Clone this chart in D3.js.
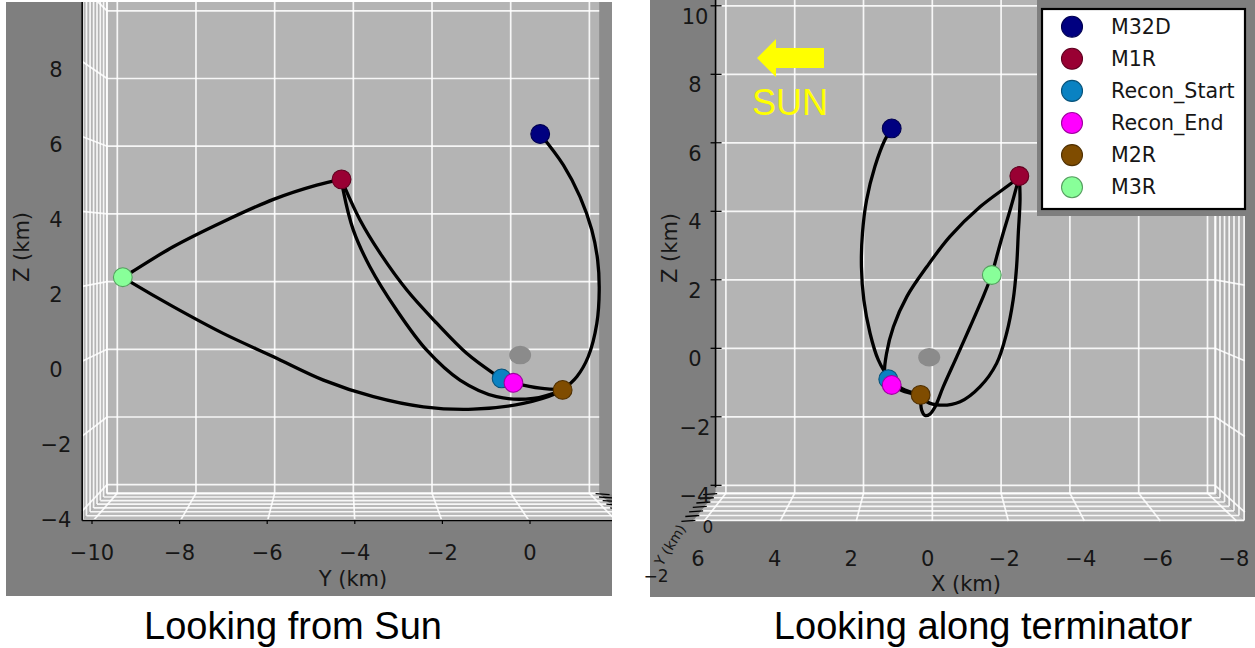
<!DOCTYPE html>
<html><head><meta charset="utf-8">
<script src="https://cdn.jsdelivr.net/npm/d3@7"></script>
<style>body{margin:0;background:#fff}svg{display:block}</style>
</head><body>
<svg id="c" width="1255" height="648"></svg>
<script>
// ---------------- DATA ----------------
const pointNames  = ["M32D","M1R","Recon_Start","Recon_End","M2R","M3R"];
const pointColors = ["#000080","#990033","#0a82c2","#ff00ff","#7f4c00","#88ff99"];

// View 1 "Looking from Sun": horizontal = Y (km), vertical = Z (km)
const sunY = [0.75, -4.30, -0.23, 0.07, 1.32, -9.86];
const sunZ = [6.36,  5.02, -0.86, -0.99, -1.20, 2.13];
const sunAsteroid = [0.24, -0.17];
const sunArcs = [
  [[0.75,6.36],[1.34,5.44],[1.76,4.51],[2.06,3.53],[2.21,2.64],[2.25,1.75],[2.19,0.77],[1.97,-0.22],[1.68,-0.81],[1.32,-1.20]],
  [[-4.30,5.02],[-4.93,4.85],[-6.03,4.43],[-7.31,3.77],[-8.58,3.03],[-9.68,2.25],[-9.86,2.13]],
  [[-9.86,2.13],[-9.68,2.00],[-8.58,1.26],[-7.31,0.47],[-6.03,-0.22],[-4.76,-0.91],[-3.49,-1.40],[-2.22,-1.70],[-0.95,-1.77],[0.32,-1.60],[1.17,-1.30],[1.32,-1.20]],
  [[-4.30,5.02],[-4.21,4.76],[-3.83,3.82],[-3.32,2.84],[-2.64,1.75],[-1.88,0.77],[-1.12,-0.12],[-0.44,-0.71],[-0.23,-0.86]],
  [[-4.30,5.02],[-4.26,4.71],[-4.00,3.52],[-3.58,2.44],[-2.90,1.16],[-2.14,-0.02],[-1.29,-0.91],[-0.36,-1.40],[0.57,-1.45],[1.32,-1.20]],
  [[0.07,-0.99],[0.75,-1.15],[1.32,-1.20]]
];

// View 2 "Looking along terminator": horizontal = X (km), vertical = Z (km)
const termX = [1.18, -2.53, 1.28, 1.18, 0.34, -1.73];
const termZ = [6.42,  5.03, -0.90, -1.07, -1.36, 2.14];
const termAsteroid = [0.09, -0.26];
const termArcs = [
  [[1.18,6.42],[1.38,6.08],[1.67,5.30],[1.91,4.33],[2.03,3.36],[2.06,2.38],[1.99,1.41],[1.81,0.44],[1.57,-0.34],[1.28,-0.83],[0.89,-1.17],[0.34,-1.36]],
  [[-2.53,5.03],[-2.35,4.86],[-1.39,4.13],[-0.51,3.26],[0.16,2.38],[0.74,1.51],[1.13,0.63],[1.33,-0.15],[1.38,-0.73],[1.28,-0.90]],
  [[-2.53,5.03],[-2.45,4.72],[-2.26,4.03],[-2.06,3.36],[-1.87,2.67],[-1.73,2.14]],
  [[-1.73,2.14],[-1.48,1.51],[-1.10,0.63],[-0.71,-0.25],[-0.32,-1.12],[-0.08,-1.71],[0.07,-1.92],[0.21,-1.96],[0.31,-1.80],[0.34,-1.36]],
  [[-2.53,5.03],[-2.55,4.33],[-2.50,3.36],[-2.45,2.38],[-2.35,1.41],[-2.16,0.44],[-1.87,-0.44],[-1.39,-1.12],[-0.81,-1.56],[-0.22,-1.66],[0.16,-1.56],[0.34,-1.36]],
  [[1.18,-1.07],[0.80,-1.27],[0.34,-1.36]]
];

// Tick values
const yTicks   = [-10,-8,-6,-4,-2,0];
const yGrid    = [-10,-8,-6,-4,-2,0,2];
const zTicksL  = [-4,-2,0,2,4,6,8];
const zGrid    = [-4,-2,0,2,4,6,8,10];
const xTicks   = [6,4,2,0,-2,-4,-6,-8];
const zTicksR  = [-4,-2,0,2,4,6,8,10];
const xDepth   = [-8,-6,-4,-2,0,2,4,6];
const yDepth   = [2,0,-2,-4,-6,-8,-10];
const yDepthLabels = [0,-2];
const captions = ["Looking from Sun","Looking along terminator"];

// ---------------- DRAWING ----------------
const svg = d3.select("#c");
const BG = "#7f7f7f", PANE = "#b4b4b4", GRID = "rgba(255,255,255,0.88)", TXT = "#161616";
const FONT = "DejaVu Sans, sans-serif";
const TICK_FS = 21, LAB_FS = 21;
const fmt = d3.format("d");
const defs = svg.append("defs");

function panel(cfg){
  defs.append("clipPath").attr("id", cfg.id).append("rect")
    .attr("x", cfg.box[0]).attr("y", cfg.box[1]).attr("width", cfg.box[2]).attr("height", cfg.box[3]);
  const root = svg.append("g");
  root.append("rect").attr("x", cfg.box[0]).attr("y", cfg.box[1]).attr("width", cfg.box[2]).attr("height", cfg.box[3]).attr("fill", BG);
  const g = root.append("g").attr("clip-path", `url(#${cfg.id})`);
  const H = cfg.H, V = cfg.V;
  const T = d3.scaleLinear().domain(cfg.depthExt).range([0,1]);
  const kk = 1 - 1/cfg.ratio;
  const P = (h,z,d) => { const s = 1/(1 - T(d)*kk); return [cfg.c[0] + (H(h)-cfg.c[0])*s, cfg.c[1] + (V(z)-cfg.c[1])*s]; };
  const [h0,h1] = cfg.hExt, [z0,z1] = cfg.zExt, [d0,d1] = cfg.depthExt;
  const poly = pts => "M" + pts.map(p => p[0].toFixed(2)+","+p[1].toFixed(2)).join("L") + "Z";

  if (cfg.strip) g.append("path").attr("d", poly([[H(h1),V(z1)],[H(h1)+40,V(z1)],[H(h1)+40,V(z0)+4],[H(h1),V(z0)]])).attr("fill", "#8c8c8c");
  // panes
  g.append("rect").attr("x", Math.min(H(h0),H(h1))).attr("y", V(z1)).attr("width", Math.abs(H(h1)-H(h0))).attr("height", V(z0)-V(z1)).attr("fill", PANE);
  g.append("path").attr("d", poly([P(cfg.wallH,z1,d0),P(cfg.wallH,z0,d0),P(cfg.wallH,z0,d1),P(cfg.wallH,z1,d1)])).attr("fill", cfg.wallFill);
  g.append("path").attr("d", poly([P(h0,z0,d0),P(h1,z0,d0),P(h1,z0,d1),P(h0,z0,d1)])).attr("fill", cfg.floorFill);
  // grid
  const gg = g.append("g").attr("stroke", GRID).attr("stroke-width", 1.7).attr("fill","none");
  const seg = (a,b) => gg.append("line").attr("x1",a[0]).attr("y1",a[1]).attr("x2",b[0]).attr("y2",b[1]);
  cfg.hGrid.forEach(h => { seg([H(h),V(z1)],[H(h),V(z0)]); seg(P(h,z0,d0),P(h,z0,d1)); });
  cfg.zGrid.forEach(z => { seg([H(h0),V(z)],[H(h1),V(z)]); seg(P(cfg.wallH,z,d0),P(cfg.wallH,z,d1)); });
  cfg.dGrid.forEach(d => { seg(P(h0,z0,d),P(h1,z0,d)); seg(P(cfg.wallH,z1,d),P(cfg.wallH,z0,d)); });
  seg([H(cfg.wallH),V(z1)],[H(cfg.wallH),V(z0)]);
  seg([H(h0),V(z0)],[H(h1),V(z0)]);

  cfg.extra && cfg.extra(g, H, V, P);

  // asteroid
  g.append("ellipse").attr("cx", H(cfg.asteroid[0])).attr("cy", V(cfg.asteroid[1])).attr("rx", 11).attr("ry", 9.3).attr("fill", "#8b8b8b");
  // trajectories
  const line = d3.line().x(d => H(d[0])).y(d => V(d[1])).curve(d3.curveCatmullRom.alpha(0.5));
  g.append("g").selectAll("path").data(cfg.arcs).join("path")
    .attr("d", line).attr("fill","none").attr("stroke","#000").attr("stroke-width",3.3)
    .attr("stroke-linecap","round").attr("stroke-linejoin","round");
  // points
  g.append("g").selectAll("circle").data(pointNames.map((n,i)=>i)).join("circle")
    .attr("cx", i => H(cfg.ph[i])).attr("cy", i => V(cfg.pz[i])).attr("r", 9.4)
    .attr("fill", i => pointColors[i]).attr("stroke", i => d3.color(pointColors[i]).darker(1.3)).attr("stroke-width", 1.1);
  return {g, root, H, V, P};
}

function label(sel, x, y, txt, fs, rot){
  const t = sel.append("text").attr("text-anchor","middle").attr("dominant-baseline","central")
    .attr("font-family",FONT).attr("font-size",fs).attr("fill",TXT).text(txt);
  if (rot) t.attr("transform",`translate(${x},${y}) rotate(${rot})`); else t.attr("x",x).attr("y",y);
  return t;
}

// ---- Left panel ----
const L = panel({
  id:"clipL", box:[6,2,606,594],
  H: d3.scaleLinear().domain([-10,0]).range([117.3,510.7]),
  V: d3.scaleLinear().domain([0,6]).range([349.3,146.2]),
  c:[340.4,237.6], ratio:1.1067,
  hExt:[-10.26,2.25], zExt:[-4.25,10.7], depthExt:[-8.22,6.3], wallH:-10.26,
  hGrid:yGrid, zGrid:zGrid, dGrid:xDepth, strip:true,
  wallFill:PANE, floorFill:"#b9b9b9",
  asteroid:sunAsteroid, arcs:sunArcs, ph:sunY, pz:sunZ,
  extra:(g,H,V,P)=>{
    const ax = g.append("g").attr("stroke","#000").attr("stroke-width",1.6);
    const a = P(-10.26,10.7,6.3), b = P(-10.26,-4.25,6.3), e = P(2.25,-4.25,6.3);
    ax.append("line").attr("x1",a[0]).attr("y1",a[1]).attr("x2",b[0]).attr("y2",b[1]);
    ax.append("line").attr("x1",b[0]).attr("y1",b[1]).attr("x2",e[0]).attr("y2",e[1]);
    xDepth.forEach(d => { const p = P(2.25,-4.25,d); ax.append("line").attr("x1",p[0]-4).attr("y1",p[1]).attr("x2",p[0]+10).attr("y2",p[1]+1).attr("stroke-width",1.3); });
  }
});
const yTickPos = d3.scaleLinear().domain([-10,0]).range([92,530]);
const zTickPosL = d3.scaleLinear().domain([-4,8]).range([520,70]);
yTicks.forEach(d => label(L.root, yTickPos(d), 553, fmt(d), TICK_FS));
L.root.append("g").selectAll("line").data(yTicks).join("line")
  .attr("x1", d => yTickPos(d)).attr("x2", d => yTickPos(d)).attr("y1",520).attr("y2",524).attr("stroke","#000").attr("stroke-width",1.2);
zTicksL.forEach(d => label(L.root, 56, zTickPosL(d), fmt(d), TICK_FS));
label(L.root, 353, 579, "Y (km)", LAB_FS);
label(L.root, 22, 247, "Z (km)", LAB_FS, -90);

// ---- Right panel ----
const R = panel({
  id:"clipR", box:[650,0,605,597],
  H: d3.scaleLinear().domain([0,-8]).range([932.3,1207.5]),
  V: d3.scaleLinear().domain([0,6]).range([348.3,142.8]),
  c:[932,229], ratio:1.105,
  hExt:[6.3,-8.22], zExt:[-4.23,10.4], depthExt:[2.25,-10.26], wallH:-8.22,
  hGrid:xTicks, zGrid:zGrid, dGrid:yDepth, strip:false,
  wallFill:"#b0b0b0", floorFill:"#bcbcbc",
  asteroid:termAsteroid, arcs:termArcs, ph:termX, pz:termZ,
  extra:(g,H,V,P)=>{
    const ax = g.append("g").attr("stroke","#000").attr("stroke-width",1.6);
    ax.append("line").attr("x1",H(6.3)).attr("y1",0).attr("x2",H(6.3)).attr("y2",V(-4)+2);
    zTicksR.forEach(z => ax.append("line").attr("x1",H(6.3)-5).attr("x2",H(6.3)+6).attr("y1",V(z)).attr("y2",V(z)).attr("stroke-width",1.3));
    yDepth.forEach(d => { const p = P(6.3,-4.23,d); ax.append("line").attr("x1",p[0]-12).attr("y1",p[1]+1).attr("x2",p[0]+2).attr("y2",p[1]).attr("stroke-width",1.3); });
  }
});
const xTickPos = d3.scaleLinear().domain([6,-8]).range([698,1234]);
const zTickPosR = d3.scaleLinear().domain([-4,10]).range([496,17]);
xTicks.forEach(d => label(R.root, xTickPos(d), 559, fmt(d), TICK_FS));
zTicksR.forEach(d => label(R.root, 695, zTickPosR(d), fmt(d), TICK_FS));
// crowded depth-axis (Y) labels at the lower-left corner
const depthLab = d3.scaleLinear().domain([0,-2]).range([[708,527],[656,576]]);
yDepthLabels.forEach(d => { const p = depthLab(d); label(R.root, p[0], p[1], fmt(d), 17); });
label(R.root, 670, 545, "Y (km)", 14, -58);
label(R.root, 966, 584, "X (km)", LAB_FS);
label(R.root, 670, 248, "Z (km)", LAB_FS, -90);

// Sun arrow + label
R.root.append("path").attr("d","M757,58L776,39L776,48L824,48L824,68L776,68L776,77Z").attr("fill","#ffff00");
R.root.append("text").attr("x",790).attr("y",102).attr("text-anchor","middle").attr("dominant-baseline","central")
  .attr("font-family","Liberation Sans, Arial, sans-serif").attr("font-size",36).attr("fill","#ffff00").text("SUN");

// Legend
const lg = R.root.append("g");
lg.append("rect").attr("x",1037).attr("y",0).attr("width",218).attr("height",216).attr("fill",BG);
lg.append("rect").attr("x",1042).attr("y",9).attr("width",203).attr("height",200).attr("fill","#fff").attr("stroke","#000").attr("stroke-width",2.2);
const items = lg.selectAll("g.it").data(pointNames).join("g").attr("class","it")
  .attr("transform",(d,i)=>`translate(0,${26.7 + i*32.1})`);
items.append("circle").attr("cx",1072).attr("cy",0).attr("r",10.5)
  .attr("fill",(d,i)=>pointColors[i]).attr("stroke",(d,i)=>d3.color(pointColors[i]).darker(1.3)).attr("stroke-width",1.1);
items.append("text").attr("x",1111).attr("y",0).attr("dominant-baseline","central")
  .attr("font-family",FONT).attr("font-size",20.6).attr("fill",TXT).text(d=>d);

// Captions
svg.append("g").selectAll("text").data(captions).join("text")
  .attr("x",(d,i)=>[293,983][i]).attr("y",639).attr("text-anchor","middle")
  .attr("font-family","Liberation Sans, Arial, sans-serif").attr("font-size",38).attr("fill","#000").text(d=>d);
</script>
</body></html>
